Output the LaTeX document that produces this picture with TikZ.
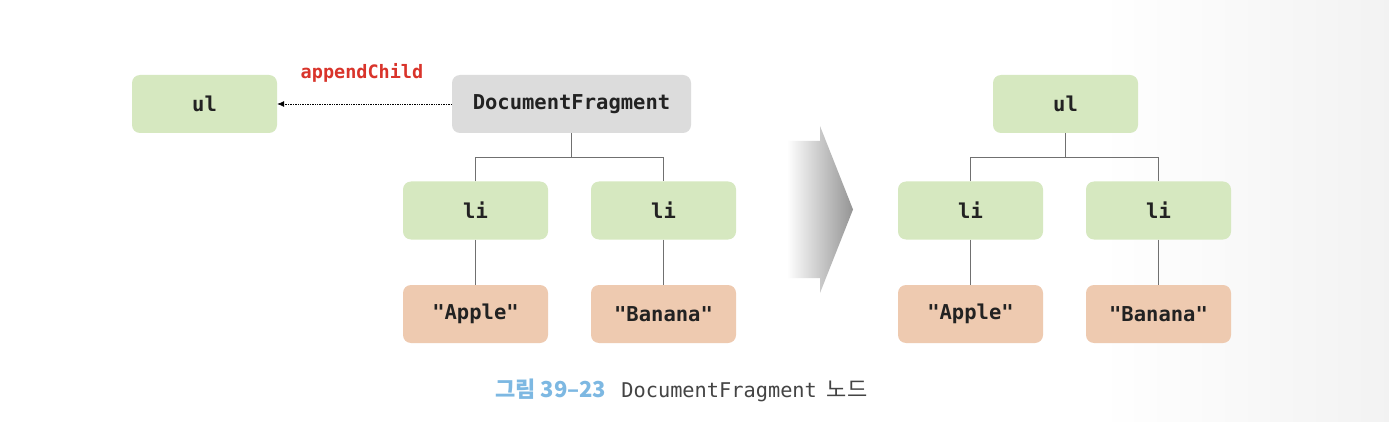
\documentclass[tikz,border=0pt]{standalone}
\usepackage{fontspec}
\setmonofont{DejaVu Sans Mono}
\newfontfamily\krfont{Noto Sans CJK KR}
\usetikzlibrary{arrows.meta}
\definecolor{nodegreen}{HTML}{D6E8C0}
\definecolor{nodegray}{HTML}{DCDCDC}
\definecolor{nodepeach}{HTML}{EECAB0}
\definecolor{txtdark}{HTML}{222222}
\definecolor{linegray}{HTML}{707070}
\definecolor{redlbl}{HTML}{D9342B}
\definecolor{capblue}{HTML}{7DB8E2}
\definecolor{capgray}{HTML}{444444}
\tikzset{
  box/.style={rounded corners=8pt, minimum width=145pt, minimum height=58pt, inner sep=0pt,
    font=\ttfamily\bfseries\fontsize{20.5}{24}\selectfont, text=txtdark},
  gbox/.style={box, fill=nodegreen},
  pbox/.style={box, fill=nodepeach},
  dbox/.style={box, fill=nodegray, minimum width=239pt},
  tline/.style={draw=linegray, line width=0.8pt}
}
\begin{document}
\begin{tikzpicture}[x=1pt,y=-1pt]
\useasboundingbox (0,0) rectangle (1389,422);
\fill[white] (0,0) rectangle (1389,422);
\shade[left color=white, right color=black!5, draw=none] (1100,0) rectangle (1389,422);
% left tree
\node[gbox] (ul1) at (204.5,104) {ul};
\node[dbox] (df) at (571.5,104) {DocumentFragment};
\node[gbox] (li1) at (475.5,210.5) {li};
\node[gbox] (li2) at (663.5,210.5) {li};
\node[pbox] (ap1) at (475.5,314) {"Apple"};
\node[pbox] (ba1) at (663.5,314) {"Banana"};
\draw[tline] (df.south) -- ++(0,24) coordinate (j1);
\draw[tline] (li1.north) |- (j1) -| (li2.north);
\draw[tline] (li1.south) -- (ap1.north);
\draw[tline] (li2.south) -- (ba1.north);
\draw[densely dotted, line width=0.7pt, -{Latex[length=7pt,width=6pt]}] (df.west) -- (ul1.east);
\node[font=\ttfamily\bfseries\fontsize{18.5}{22}\selectfont, text=redlbl] (ac) at (362,73) {appendChild};
% big arrow
\shade[left color=white, right color=black!42] (787,141) -- (820,141) -- (820,126) -- (853,209.5) -- (820,293) -- (820,278) -- (787,278) -- cycle;
% right tree
\node[gbox] (ul2) at (1065.5,104) {ul};
\node[gbox] (li3) at (970.5,210.5) {li};
\node[gbox] (li4) at (1158.5,210.5) {li};
\node[pbox] (ap2) at (970.5,314) {"Apple"};
\node[pbox] (ba2) at (1158.5,314) {"Banana"};
\draw[tline] (ul2.south) -- ++(0,24) coordinate (j2);
\draw[tline] (li3.north) |- (j2) -| (li4.north);
\draw[tline] (li3.south) -- (ap2.north);
\draw[tline] (li4.south) -- (ba2.north);
% caption
\node[anchor=west, inner sep=0pt] (cap) at (495,390) {{\krfont\bfseries\fontsize{22}{24}\selectfont\color{capblue}그림 39–23}\hspace{15pt}{\ttfamily\fontsize{20.3}{24}\selectfont\color{capgray}DocumentFragment}\hspace{10pt}{\krfont\fontsize{22}{24}\selectfont\color{capgray}노드}};
\end{tikzpicture}
\end{document}
